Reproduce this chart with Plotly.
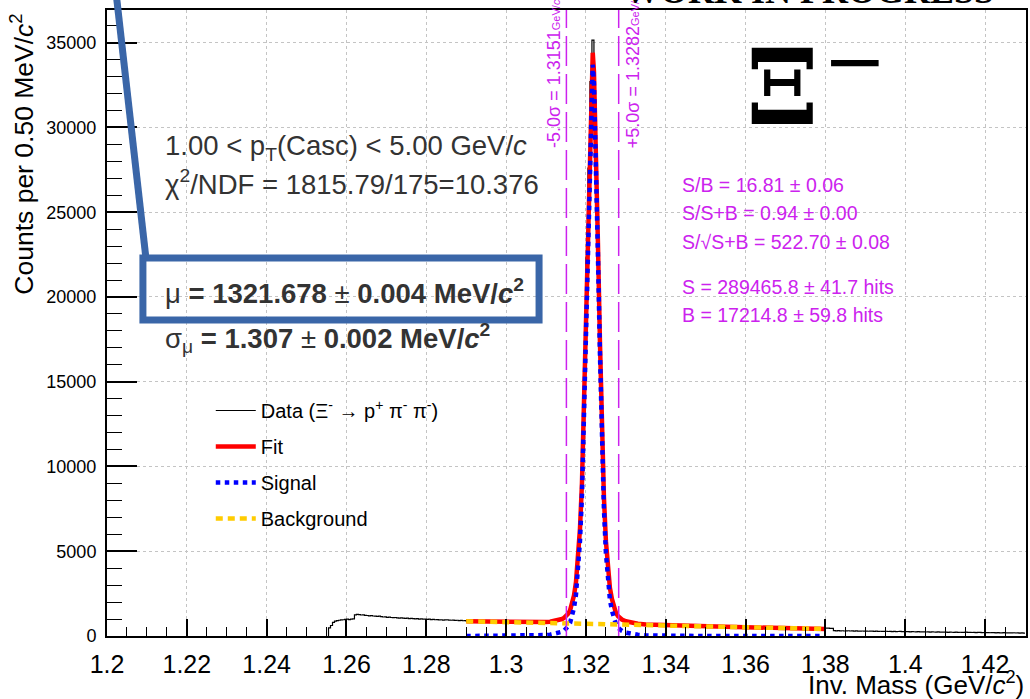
import numpy as np
import plotly.graph_objects as go

# ---------------- data ----------------
BIN_WIDTH = 0.0005          # GeV  (0.50 MeV per bin)
data_start = 1.2555         # first non-empty bin lower edge (GeV)

# counts per bin, 1.2555 - 1.2900 GeV
data_counts_low = [
    480, 620, 800, 880, 910, 930, 950, 960, 980, 990,
    970, 1000, 1010, 1250, 1270, 1260, 1240, 1250, 1220, 1210,
    1190, 1200, 1180, 1170, 1160, 1170, 1140, 1120, 1130, 1100,
    1110, 1090, 1080, 1090, 1070, 1060, 1070, 1050, 1040, 1050,
    1030, 1040, 1020, 1010, 1030, 1000, 1010, 990, 1000, 980,
    990, 970, 980, 960, 970, 950, 960, 940, 950, 960,
    940, 930, 940, 920, 930, 910, 920, 900, 905,
]
# counts per bin, 1.2900 - 1.3800 GeV (fit region)
data_counts_peak = [
    872, 861, 868, 855, 860, 851, 857, 846, 852, 843,
    848, 839, 842, 833, 838, 829, 834, 826, 830, 822,
    826, 818, 821, 813, 817, 809, 812, 806, 808, 801,
    806, 798, 802, 797, 800, 796, 801, 798, 805, 810,
    830, 838, 853, 868, 890, 925, 962, 1012, 1060, 1120,
    1215, 1400, 1640, 2085, 2730, 3735, 5230, 7620, 11230, 16240,
    22300, 27600, 32700, 35150, 31600, 26200, 20300, 15100, 10300, 6900,
    4800, 3390, 2490, 1940, 1555, 1300, 1140, 1040, 965, 912,
    878, 845, 816, 790, 765, 745, 728, 713, 703, 690,
    680, 676, 668, 662, 655, 651, 645, 640, 636, 630,
    627, 620, 618, 612, 610, 604, 608, 598, 601, 596,
    597, 590, 592, 585, 584, 580, 582, 574, 576, 570,
    572, 565, 566, 558, 561, 553, 556, 549, 551, 544,
    545, 538, 540, 533, 535, 527, 530, 522, 524, 517,
    518, 510, 512, 505, 508, 500, 503, 496, 498, 491,
    493, 485, 488, 480, 483, 475, 478, 471, 473, 466,
    468, 460, 463, 455, 458, 451, 453, 446, 448, 441,
    443, 436, 438, 430, 433, 426, 428, 421, 423, 417,
]
# counts per bin, 1.3800 - 1.4300 GeV
data_counts_high = [
    470, 462, 455, 447, 318, 305, 312, 300, 309, 296,
    303, 311, 294, 300, 289, 298, 292, 285, 296, 283,
    290, 279, 287, 292, 276, 284, 272, 281, 275, 268,
    279, 266, 272, 263, 270, 259, 266, 274, 257, 262,
    253, 260, 248, 256, 251, 243, 254, 246, 240, 249,
    237, 244, 232, 241, 236, 228, 238, 230, 224, 233,
    226, 219, 229, 222, 216, 225, 213, 220, 211, 217,
    223, 209, 214, 205, 212, 202, 208, 214, 199, 206,
    197, 203, 193, 200, 195, 188, 198, 190, 185, 194,
    182, 189, 180, 186, 192, 178, 184, 175, 181, 172,
]

# fit components sampled along the fit range (GeV)
fit_mass = [
    1.2900, 1.2950, 1.3000, 1.3050, 1.3080, 1.3100, 1.3110, 1.3120, 1.3130, 1.3140,
    1.3145, 1.3150, 1.3155, 1.3160, 1.3165, 1.3170, 1.3175, 1.3180, 1.3185, 1.3190,
    1.3195, 1.3200, 1.3205, 1.3210, 1.3215, 1.3217, 1.3220, 1.3225, 1.3230, 1.3235,
    1.3240, 1.3245, 1.3250, 1.3255, 1.3260, 1.3265, 1.3270, 1.3275, 1.3280, 1.3285,
    1.3290, 1.3300, 1.3310, 1.3320, 1.3330, 1.3350, 1.3400, 1.3450, 1.3500, 1.3550,
    1.3600, 1.3650, 1.3700, 1.3750, 1.3800,
]
signal_counts = [
    0, 0, 3, 10, 28, 55, 80, 115, 170, 250,
    320, 420, 560, 760, 1120, 1650, 2450, 3700, 5600, 8300,
    13000, 18500, 24300, 29500, 33400, 33700, 32600, 28200, 22500, 16700,
    11500, 7500, 4900, 3200, 2150, 1500, 1000, 700, 500, 380,
    300, 200, 140, 95, 70, 35, 8, 2, 0, 0,
    0, 0, 0, 0, 0,
]
background_counts = [
    870, 845, 820, 795, 780, 770, 765, 760, 754, 749,
    746, 744, 741, 738, 735, 733, 730, 727, 724, 722,
    719, 716, 713, 711, 708, 707, 705, 703, 700, 698,
    696, 694, 692, 689, 687, 685, 683, 680, 678, 676,
    674, 670, 665, 661, 656, 647, 625, 598, 570, 543,
    515, 490, 465, 440, 415,
]

sigma_window = [1.3151, 1.3282]       # -5 sigma / +5 sigma (GeV)
sigma_labels = ["-5.0σ = 1.3151", "+5.0σ = 1.3282"]

x_tick_vals = [1.20, 1.22, 1.24, 1.26, 1.28, 1.30, 1.32, 1.34, 1.36, 1.38, 1.40, 1.42]
x_tick_text = ["1.2", "1.22", "1.24", "1.26", "1.28", "1.3", "1.32", "1.34", "1.36", "1.38", "1.4", "1.42"]
y_tick_vals = [0, 5000, 10000, 15000, 20000, 25000, 30000, 35000]

# ---------------- layout helpers ----------------
W, H = 1030, 699
ML, MR, MT, MB = 107, 2, 10, 63
PW, PH = W - ML - MR, H - MT - MB


def px(xp):
    return (xp - ML) / PW


def py(yp):
    return (H - MB - yp) / PH


FONT = "Liberation Sans, Arial, Helvetica, sans-serif"
SERIF = "DejaVu Serif, Liberation Serif, serif"
MAGENTA = "#cc22ee"
GREY = "#333333"
BOXBLUE = "#3a66a8"

# ---------------- traces ----------------
counts = data_counts_low + data_counts_peak + data_counts_high
edges = data_start + BIN_WIDTH * np.arange(len(counts) + 1)
hist_x = np.concatenate([[edges[0]], edges])
hist_y = [0] + counts + [counts[-1]]
fit_counts = [s + b for s, b in zip(signal_counts, background_counts)]

fig = go.Figure()
fig.add_trace(go.Scatter(
    x=hist_x, y=hist_y, mode="lines", line=dict(color="black", width=1.2, shape="hv"),
    name="Data (Ξ<sup>-</sup> → p<sup>+</sup> π<sup>-</sup> π<sup>-</sup>)", legendgroup="a"))
fig.add_trace(go.Scatter(
    x=fit_mass, y=fit_counts, mode="lines", line=dict(color="#ff0000", width=4.5),
    name="Fit", legendgroup="b"))
fig.add_trace(go.Scatter(
    x=fit_mass, y=signal_counts, mode="lines", line=dict(color="#0000ff", width=4.5, dash="dot"),
    name="Signal", legendgroup="c"))
fig.add_trace(go.Scatter(
    x=fit_mass, y=background_counts, mode="lines",
    line=dict(color="#ffcc00", width=4.5, dash="7px,5px"),
    name="Background", legendgroup="d"))

# ---------------- shapes ----------------
shapes = []
for xv in sigma_window:
    shapes.append(dict(type="line", xref="x", yref="paper", x0=xv, x1=xv, y0=0, y1=1,
                       line=dict(color=MAGENTA, width=1.5, dash="30px,8px"), layer="above"))
# highlight box around the mean value
shapes.append(dict(type="rect", xref="paper", yref="paper",
                   x0=px(143), x1=px(540), y0=py(320), y1=py(258),
                   line=dict(color=BOXBLUE, width=7), fillcolor="rgba(0,0,0,0)", layer="above"))
shapes.append(dict(type="line", xref="paper", yref="paper",
                   x0=px(116), y0=py(-8), x1=px(146), y1=py(258),
                   line=dict(color=BOXBLUE, width=7), layer="above"))

# ---------------- annotations ----------------
ann = []


def text(xp, yp, t, size, color=GREY, xanchor="left", yanchor="middle", family=FONT, angle=0):
    ann.append(dict(xref="paper", yref="paper", x=px(xp), y=py(yp), text=t, showarrow=False,
                    xanchor=xanchor, yanchor=yanchor, textangle=angle,
                    font=dict(size=size, color=color, family=family)))


text(163, 148, "1.00 &lt; p<sub>T</sub>(Casc) &lt; 5.00 GeV/<i>c</i>", 27.5)
text(163, 182, "χ<sup>2</sup>/NDF = 1815.79/175=10.376", 27.5)
text(163, 291, "μ<b> = 1321.678 </b>± <b>0.004 MeV/<i>c</i><sup>2</sup></b>", 27.5)
text(163, 338, "σ<sub>μ</sub><b> = 1.307 </b>± <b>0.002 MeV/<i>c</i><sup>2</sup></b>", 27.5)

mag_lines = [
    (185, "S/B = 16.81 ± 0.06"),
    (213, "S/S+B = 0.94 ± 0.00"),
    (242, "S/√S+B = 522.70 ± 0.08"),
    (287, "S = 289465.8 ± 41.7 hits"),
    (315, "B = 17214.8 ± 59.8 hits"),
]
for yp, t in mag_lines:
    text(681, yp, t, 19.5, color=MAGENTA)

# rotated sigma-window labels
for xv, lab, side in zip(sigma_window, sigma_labels, ["right", "left"]):
    ann.append(dict(xref="x", yref="paper", x=xv, y=py(150), showarrow=False,
                    text=lab + "<span style='font-size:11px'>GeV/<i>c</i><sup>2</sup></span>",
                    textangle=-90, xanchor=side, yanchor="bottom",
                    xshift=-1 if side == "right" else 2,
                    font=dict(size=18, color=MAGENTA, family=FONT)))

# particle label
text(784, 88, "<b>Ξ</b>", 104, color="black", family=SERIF, xanchor="center")
text(857, 60, "−", 76, color="black", family="DejaVu Sans, sans-serif", xanchor="center")
# header (cut by canvas top)
text(811, 13, "<b>WORK IN PROGRESS</b>", 36, color="black", family="Liberation Serif, serif",
     xanchor="center", yanchor="bottom")

# axis titles (ROOT style: aligned to the axis end)
text(21, 12, "Counts per 0.50 MeV/<i>c</i><sup>2</sup>", 26.5, color="black",
     xanchor="center", yanchor="top", angle=-90)
text(1028, 683, "Inv. Mass (GeV/<i>c</i><sup>2</sup>)", 26, color="black",
     xanchor="right", yanchor="middle")

# ---------------- layout ----------------
fig.update_layout(
    width=W, height=H,
    margin=dict(l=ML, r=MR, t=MT, b=MB, pad=0),
    paper_bgcolor="white", plot_bgcolor="white",
    font=dict(family=FONT, color="black"),
    shapes=shapes, annotations=ann,
    showlegend=True,
    legend=dict(x=px(211), y=py(391), xanchor="left", yanchor="top",
                bgcolor="rgba(0,0,0,0)", borderwidth=0,
                font=dict(size=20, family=FONT, color="black"),
                itemwidth=40, tracegroupgap=7, traceorder="grouped"),
    xaxis=dict(range=[1.2, 1.2 + PW / 4000.0], tickvals=x_tick_vals, ticktext=x_tick_text,
               ticks="inside", ticklen=17, tickwidth=1.5, tickcolor="black",
               tickfont=dict(size=25, family=FONT, color="black"), ticklabelstandoff=5,
               showline=True, linecolor="black", linewidth=2, mirror=True,
               showgrid=True, gridcolor="#c4c4c4", griddash="dot", gridwidth=1,
               zeroline=False,
               minor=dict(dtick=0.005, tick0=1.2, ticks="inside", ticklen=9, tickwidth=1.2,
                          tickcolor="black", showgrid=False)),
    yaxis=dict(range=[0, PH / 0.016952], tickvals=y_tick_vals, tickformat="d",
               ticks="inside", ticklen=30, tickwidth=1.5, tickcolor="black",
               tickfont=dict(size=18, family=FONT, color="black"), ticklabelstandoff=5,
               showline=True, linecolor="black", linewidth=2, mirror=True,
               showgrid=True, gridcolor="#c4c4c4", griddash="dot", gridwidth=1,
               zeroline=False,
               minor=dict(dtick=1000, tick0=0, ticks="inside", ticklen=15, tickwidth=1.2,
                          tickcolor="black", showgrid=False)),
)

fig.write_html("out.html", config={"displayModeBar": False},
               post_script="document.body.style.margin='0px';")
